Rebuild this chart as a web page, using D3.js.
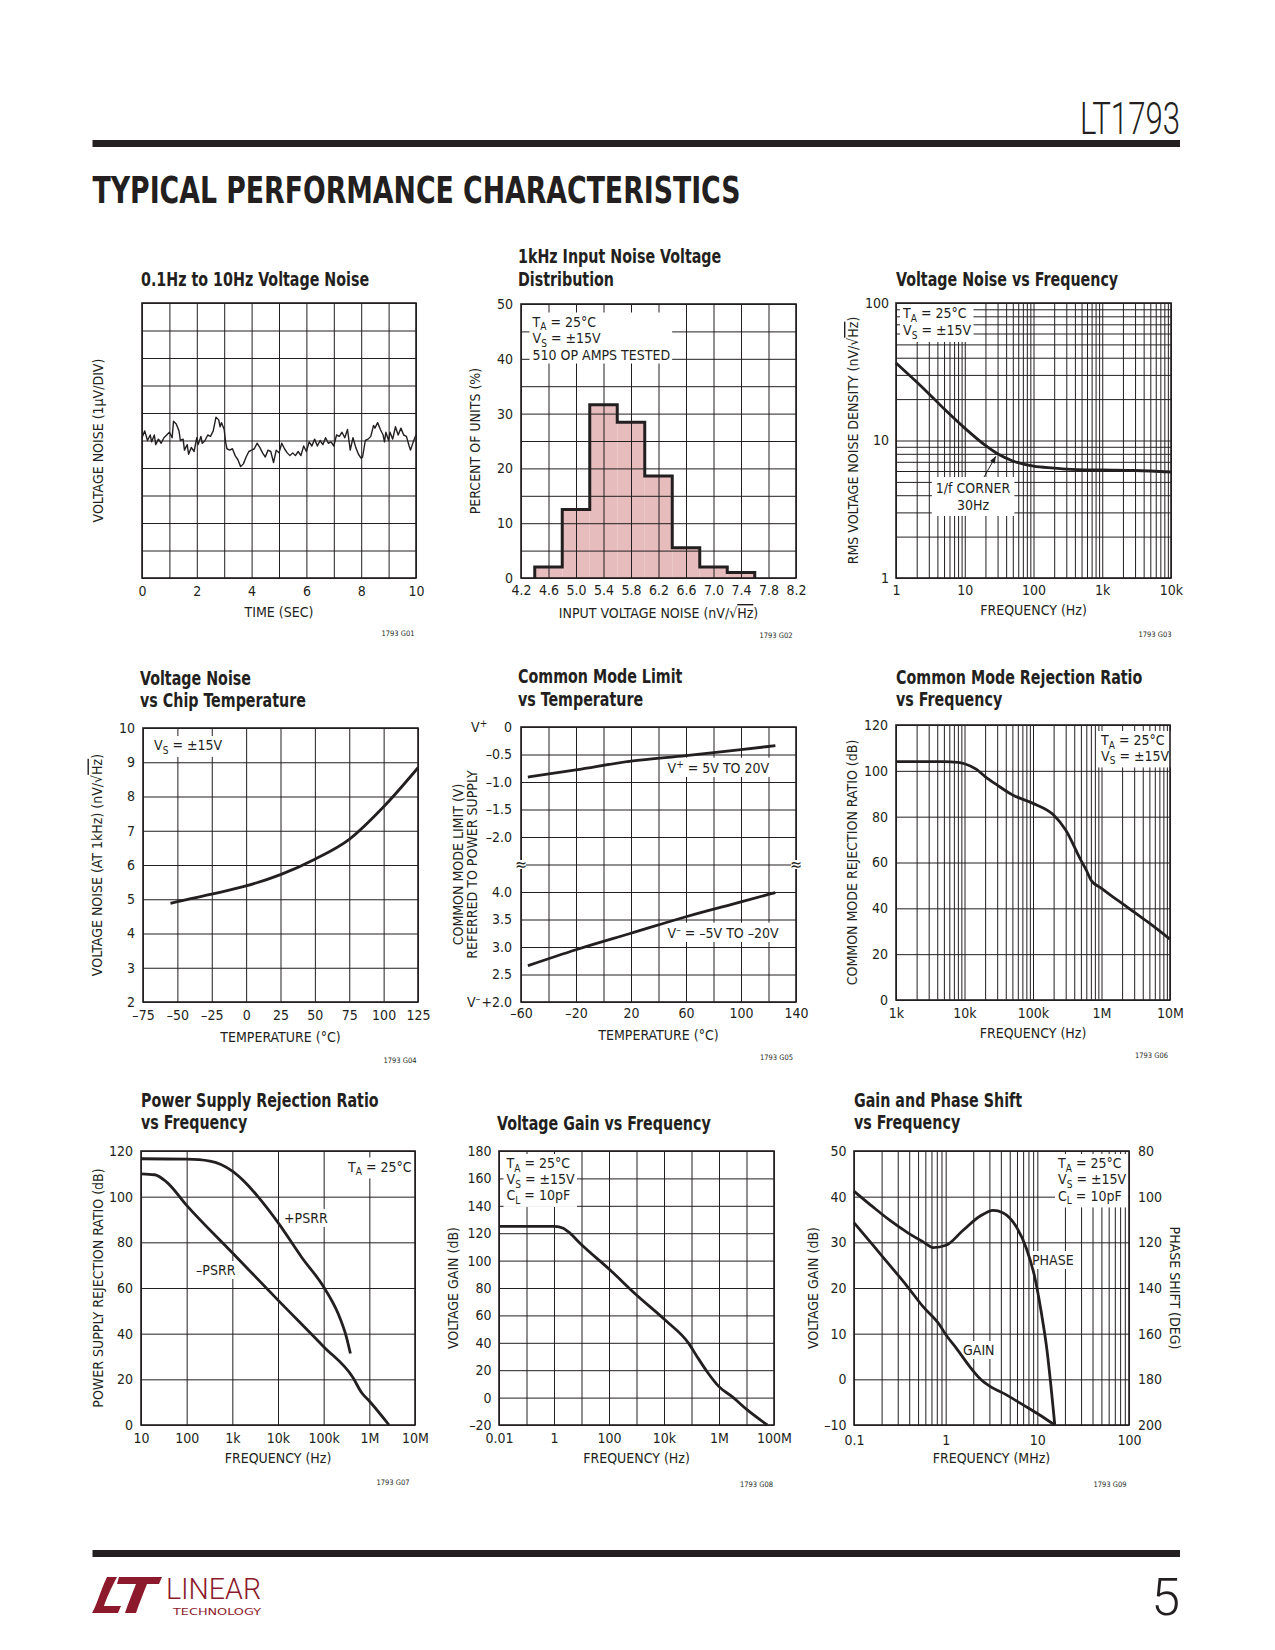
<!DOCTYPE html>
<html><head><meta charset="utf-8">
<script src="https://cdn.jsdelivr.net/npm/d3@7"></script>
<style>
body{margin:0;background:#fff;}
svg text{font-family:"Liberation Sans Narrow","DejaVu Sans Condensed","Arial Narrow",sans-serif;fill:#231f20;}
</style></head><body>
<svg id="page" width="1275" height="1650" xmlns="http://www.w3.org/2000/svg"></svg>
<script>
// ---------------- DATA ----------------
// G01: 0.1Hz to 10Hz noise (time s, µV)
const noiseT = [0,0.1,0.2,0.3,0.35,0.45,0.5,0.6,0.7,0.8,0.9,1.0,1.1,1.15,1.25,1.35,1.4,1.5,1.55,1.65,1.7,1.8,1.9,2.0,2.05,2.15,2.2,2.3,2.4,2.5,2.6,2.7,2.8,2.85,2.9,3.0,3.05,3.1,3.2,3.3,3.4,3.5,3.6,3.7,3.8,3.9,4.0,4.1,4.2,4.3,4.4,4.5,4.6,4.7,4.8,4.9,5.0,5.1,5.2,5.3,5.4,5.5,5.6,5.7,5.8,5.9,6.0,6.1,6.2,6.3,6.4,6.5,6.6,6.7,6.8,6.9,7.0,7.1,7.2,7.3,7.4,7.5,7.6,7.7,7.8,7.9,8.0,8.05,8.15,8.25,8.35,8.45,8.5,8.6,8.7,8.8,8.85,8.9,9.0,9.05,9.15,9.25,9.35,9.45,9.55,9.65,9.75,9.8,9.9,10.0];
const noiseUV = [0.1,0.35,0,0.2,-0.05,0.2,-0.15,0.05,-0.1,0.1,0.2,0.3,0.1,0.7,0.6,0.35,0.0,0.05,-0.35,-0.15,-0.5,-0.25,-0.4,0.1,-0.15,0.15,-0.1,0.0,0.2,0.15,0.35,0.85,0.75,0.5,0.65,0.4,-0.05,-0.3,-0.35,-0.3,-0.55,-0.7,-0.95,-0.85,-0.6,-0.4,-0.35,-0.3,-0.1,-0.25,-0.45,-0.6,-0.35,-0.4,-0.8,-0.35,-0.45,-0.1,-0.3,-0.45,-0.55,-0.45,-0.55,-0.4,-0.55,-0.2,-0.4,-0.05,-0.2,0.05,-0.2,0.0,-0.15,0.1,-0.1,-0.05,-0.2,0.2,0.15,0.3,0.1,0.4,-0.35,0.1,-0.25,-0.5,-0.65,-0.6,0.0,0.05,0.15,0.55,0.45,0.65,0.4,0.2,-0.05,0.3,0.0,0.3,0.05,0.5,0.2,0.45,0.2,0.15,-0.2,-0.35,-0.05,0.2];

// G02: histogram
const histLo  = [4.4,4.8,5.2,5.6,6.0,6.4,6.8,7.2];
const histHi  = [4.8,5.2,5.6,6.0,6.4,6.8,7.2,7.6];
const histPct = [2,12.5,31.6,28.4,18.6,5.5,2,1];

// G03: noise density vs frequency
const vnFreq = [1,2,3,5,10,20,30,50,100,200,300,1000,3000,10000];
const vnDens = [36.6,26.6,21.9,17.0,12.3,9.2,8.0,7.1,6.5,6.3,6.2,6.1,6.05,5.9];

// G04: noise vs temperature
const vtTemp = [-55,-50,-25,0,25,50,75,100,125];
const vtNoise = [4.88,4.93,5.15,5.39,5.72,6.17,6.75,7.7,8.84];

// G05: common mode limit
const cmTemp  = [-55,-20,20,60,100,125];
const cmUpper = [-0.91,-0.78,-0.62,-0.52,-0.41,-0.34];
const cmLower = [2.66,2.95,3.25,3.55,3.82,3.99];

// G06: CMRR
const cmrrFreq = [1e3,5e3,8e3,1e4,1.5e4,2e4,3e4,5e4,1e5,2e5,3e5,5e5,6e5,7e5,1e6,1.5e6,2e6,3e6,5e6,1e7];
const cmrrDb   = [104,104,103.7,103.1,100.6,97.5,93.8,89.5,85.8,80.7,74.2,61,56.7,52.4,48.7,44.8,42.2,38.3,33.5,26.5];

// G07: PSRR
const psrrPFreq = [10,100,323,1000,2040,3680,10400,32600,105000,207000,314000,385000];
const psrrPDb   = [116.6,116.4,115.6,111.2,105.7,99.9,88.2,73.6,59.8,48.8,38.6,31.3];
const psrrNFreq = [10,20,36.5,100,1000,10000,100000,440000,680000,1030000,2700000];
const psrrNDb   = [110,109.6,106.4,96.2,75.4,54.7,34.3,20.7,14.1,10.2,0];

// G08: voltage gain
const avFreq = [0.01,1.07,2.17,3.3,8.8,110,1000,11000,79000,160000,370000,1e6,3e6,1.07e7,5.7e7];
const avDb   = [125,125,123.6,121.1,112.6,93.1,74.9,56.6,39.6,29.9,18.9,8,0.7,-9,-20];

// G09: gain and phase (MHz)
const gpGainF = [0.1,0.161,0.245,0.373,0.567,0.86,1.01,1.31,1.83,2.36,3.03,4.6,7.0,10.6,15.5];
const gpGainDb = [34.3,29.4,25.0,20.6,15.9,11.9,9.7,6.8,2.8,0.2,-1.5,-3.4,-5.6,-7.8,-10];
const gpPhaseF = [0.1,0.161,0.245,0.373,0.567,0.73,1.01,1.55,2.36,3.3,4.2,5.9,7.6,9.35,11.1,12.6,15.5];
const gpPhaseDeg = [97.6,104.5,110.3,115.4,119.8,122.3,121.3,114.7,108.6,106.0,107.0,113.2,122.7,135.1,151.2,165.7,200];

// tick labels
const p1XTicks = [0,2,4,6,8,10];
const p2XTicks = [4.2,4.6,5.0,5.4,5.8,6.2,6.6,7.0,7.4,7.8,8.2];
const p2YTicks = [0,10,20,30,40,50];
const p3XTicks = [1,10,100,1000,10000], p3XLabels = ['1','10','100','1k','10k'];
const p3YTicks = [1,10,100];
const p4XTicks = [-75,-50,-25,0,25,50,75,100,125];
const p4YTicks = [2,3,4,5,6,7,8,9,10];
const p5XTicks = [-60,-20,20,60,100,140];
const p5YLabels = ['0','–0.5','–1.0','–1.5','–2.0','','4.0','3.5','3.0','2.5','+2.0'];
const p6XTicks = [1e3,1e4,1e5,1e6,1e7], p6XLabels = ['1k','10k','100k','1M','10M'];
const p6YTicks = [0,20,40,60,80,100,120];
const p7XTicks = [10,100,1e3,1e4,1e5,1e6,1e7], p7XLabels = ['10','100','1k','10k','100k','1M','10M'];
const p7YTicks = [0,20,40,60,80,100,120];
const p8XTicks = [0.01,1,100,1e4,1e6,1e8], p8XLabels = ['0.01','1','100','10k','1M','100M'];
const p8YTicks = [-20,0,20,40,60,80,100,120,140,160,180];
const p9XTicks = [0.1,1,10,100], p9XLabels = ['0.1','1','10','100'];
const p9YTicks = [-10,0,10,20,30,40,50];
const p9PTicks = [80,100,120,140,160,180,200];

// ---------------- HELPERS ----------------
const INK = '#231f20';
const RED = '#8c1a2c';
const svg = d3.select('#page');
const fmtNum = d => String(d).replace('-', '\u2013');

function rich(t, str, fs) {
  const re = /(_\{[^}]*\}|\^\{[^}]*\}|~\{[^}]*\})/;
  const parts = str.split(re).filter(s => s.length);
  let off = 0;
  parts.forEach(p => {
    if (p.startsWith('_{') || p.startsWith('^{')) {
      const shift = p[0] === '_' ? fs * 0.28 : -fs * 0.38;
      t.append('tspan').attr('font-size', fs * 0.72).attr('dy', shift - off).text(p.slice(2, -1));
      off = shift;
    } else if (p.startsWith('~{')) {
      t.append('tspan').attr('dy', -off).style('text-decoration', 'overline').text(p.slice(2, -1));
      off = 0;
    } else {
      t.append('tspan').attr('dy', -off).text(p);
      off = 0;
    }
  });
}
function txt(g, x, y, str, o = {}) {
  const fs = o.size || 14;
  const t = g.append('text').attr('x', x).attr('y', y).attr('font-size', fs)
    .attr('text-anchor', o.anchor || 'start').attr('font-weight', o.weight || 'normal');
  let tr = '';
  if (o.rotate) tr += `rotate(${o.rotate},${x},${y}) `;
  if (o.sx) tr += `translate(${x},${y}) scale(${o.sx},1) translate(${-x},${-y})`;
  if (tr) t.attr('transform', tr);
  if (o.fill) t.style('fill', o.fill);
  rich(t, str, fs);
  return t;
}
function note(g, x, ys, lines, o = {}) {
  const grp = g.append('g');
  lines.forEach((l, i) => txt(grp, x, ys[i], l, o));
  const bb = grp.node().getBBox();
  const pad = o.pad ?? 2;
  grp.insert('rect', ':first-child').attr('x', bb.x - pad).attr('y', bb.y - pad + 1)
    .attr('width', bb.width + 2 * pad).attr('height', bb.height + 2 * pad - 2).attr('fill', '#fff');
  return grp;
}
function logGrid(lo, hi, minor) {
  const out = [];
  const e0 = Math.round(Math.log10(lo)), e1 = Math.round(Math.log10(hi));
  for (let e = e0; e < e1; e++) {
    const b = Math.pow(10, e);
    if (minor) for (let k = 1; k < 10; k++) out.push(+(k * b).toPrecision(6)); else out.push(b);
  }
  out.push(hi);
  return out;
}
function styleGrid(s) {
  s.select('.domain').remove();
  s.attr('font-family', null).attr('font-size', null);
  s.selectAll('line').attr('stroke', INK).attr('stroke-width', 1);
}
function styleLabels(s) {
  s.select('.domain').remove();
  s.attr('font-family', null).attr('font-size', null);
  s.selectAll('text').attr('font-size', 14).style('fill', INK);
}
function panel(c) {
  const g = svg.append('g');
  const x = c.x.copy().range([c.x0, c.x0 + c.w]);
  const y = c.y.copy().range([c.y0 + c.h, c.y0]);
  const L = {under: g.append('g'), grid: g.append('g'), notes: g.append('g'), frame: g.append('g'), marks: g.append('g'), labels: g.append('g')};
  L.grid.append('g').attr('transform', `translate(0,${c.y0 + c.h})`)
    .call(d3.axisBottom(x).tickValues(c.xGrid).tickSize(-c.h).tickFormat('')).call(styleGrid);
  L.grid.append('g').attr('transform', `translate(${c.x0},0)`)
    .call(d3.axisLeft(y).tickValues(c.yGrid).tickSize(-c.w).tickFormat('')).call(styleGrid);
  L.frame.append('rect').attr('x', c.x0).attr('y', c.y0).attr('width', c.w).attr('height', c.h)
    .attr('fill', 'none').attr('stroke', INK).attr('stroke-width', 1.6);
  if (c.xTicks) L.labels.append('g').attr('transform', `translate(0,${c.y0 + c.h})`)
    .call(d3.axisBottom(x).tickValues(c.xTicks).tickSize(0).tickPadding(c.xPad ?? 8)
      .tickFormat((d, i) => c.xLabels ? c.xLabels[i] : (c.xFmt ? c.xFmt(d) : fmtNum(d))))
    .call(styleLabels);
  if (c.yTicks) L.labels.append('g').attr('transform', `translate(${c.x0},0)`)
    .call(d3.axisLeft(y).tickValues(c.yTicks).tickSize(0).tickPadding(c.yPad ?? 8)
      .tickFormat((d, i) => c.yLabels ? c.yLabels[i] : fmtNum(d)))
    .call(styleLabels);
  // titles
  c.title.forEach((t, i) => txt(L.labels, c.tx, c.ty + i * 22.5, t, {size: 19, weight: 'bold', sx: 0.835}));
  if (c.xTitle) txt(L.labels, c.x0 + c.w / 2, c.xTitleY, c.xTitle, {anchor: 'middle'});
  if (c.yTitle) c.yTitle.forEach((t, i) => txt(L.labels, c.yTitleX[i], c.y0 + c.h / 2, t, {anchor: 'middle', rotate: -90}));
  txt(L.labels, c.codeX, c.codeY, c.code, {size: 7.5, anchor: 'middle'});
  return {g, x, y, L, c};
}
const curve = (x, y, xs, ys, cv) => d3.line().x((d, i) => x(xs[i])).y((d, i) => y(ys[i])).curve(cv || d3.curveMonotoneX)(xs);
function drawCurve(P, xs, ys, o = {}) {
  P.L.marks.append('path').attr('d', curve(o.x || P.x, o.y || P.y, xs, ys, o.curve))
    .attr('fill', 'none').attr('stroke', INK).attr('stroke-width', o.width || 2.8)
    .attr('stroke-linejoin', 'round').attr('stroke-linecap', 'butt');
}

// ---------------- PAGE HEADER / FOOTER ----------------
svg.append('rect').attr('width', 1275).attr('height', 1650).attr('fill', '#fff');
svg.append('text').attr('x', 1180).attr('y', 134).attr('text-anchor', 'end').attr('font-size', 44)
  .attr('textLength', 100).attr('lengthAdjust', 'spacingAndGlyphs')
  .style('font-family', 'Roboto,"Open Sans",Lato,sans-serif').style('font-weight', 300).text('LT1793');
svg.append('rect').attr('x', 92.5).attr('y', 140).attr('width', 1087.5).attr('height', 7).attr('fill', INK);
svg.append('text').attr('x', 92.5).attr('y', 203).attr('font-size', 38)
  .attr('textLength', 648).attr('lengthAdjust', 'spacingAndGlyphs')
  .style('font-family', '"DejaVu Sans Condensed","DejaVu Sans",sans-serif').style('font-weight', 'bold')
  .text('TYPICAL PERFORMANCE CHARACTERISTICS');
svg.append('rect').attr('x', 92.5).attr('y', 1550).attr('width', 1087.5).attr('height', 7).attr('fill', INK);
svg.append('text').attr('x', 1180).attr('y', 1615).attr('text-anchor', 'end').attr('font-size', 52)
  .style('font-family', 'Roboto,"Open Sans",Lato,sans-serif').style('font-weight', 300).text('5');
// logo
const logo = svg.append('g');
logo.append('path').attr('fill', RED)
  .attr('d', 'M107,1577 L117,1577 C110,1590 106,1600 104,1606 L121,1606 L118,1613 L92,1613 C96,1607 100,1592 107,1577 Z');
logo.append('path').attr('fill', RED)
  .attr('d', 'M119,1577 L162,1577 L159,1584 L147,1584 C143,1594 139,1604 136,1613 L125,1613 C128,1604 132,1594 136,1584 L117,1584 Z');
logo.append('text').attr('x', 166).attr('y', 1599).attr('font-size', 30).attr('textLength', 95)
  .attr('lengthAdjust', 'spacingAndGlyphs').style('fill', RED)
  .style('font-family', 'Roboto,"Open Sans",sans-serif').style('font-weight', 300).text('LINEAR');
logo.append('text').attr('x', 173).attr('y', 1615).attr('font-size', 9).attr('textLength', 88)
  .attr('lengthAdjust', 'spacingAndGlyphs').style('fill', RED).text('TECHNOLOGY');

// ---------------- G01 ----------------
const P1 = panel({x0: 142, y0: 303, w: 274, h: 275,
  x: d3.scaleLinear().domain([0, 10]), y: d3.scaleLinear().domain([-5, 5]),
  xGrid: d3.range(0, 11), yGrid: d3.range(-5, 6),
  xTicks: p1XTicks, xPad: 8,
  title: ['0.1Hz to 10Hz Voltage Noise'], tx: 141, ty: 286,
  xTitle: 'TIME (SEC)', xTitleY: 617, yTitle: ['VOLTAGE NOISE (1µV/DIV)'], yTitleX: [103],
  code: '1793 G01', codeX: 398, codeY: 636});
drawCurve(P1, noiseT, noiseUV, {curve: d3.curveLinear, width: 1.4});

// ---------------- G02 ----------------
const P2 = panel({x0: 521, y0: 304, w: 275, h: 274,
  x: d3.scaleLinear().domain([4.2, 8.2]), y: d3.scaleLinear().domain([0, 50]),
  xGrid: p2XTicks, yGrid: d3.range(0, 51, 5),
  xTicks: p2XTicks, xFmt: d3.format('.1f'), xPad: 7, yTicks: p2YTicks, yPad: 8,
  title: ['1kHz Input Noise Voltage', 'Distribution'], tx: 518, ty: 263.5,
  xTitle: 'INPUT VOLTAGE NOISE (nV/√~{Hz})', xTitleY: 618, yTitle: ['PERCENT OF UNITS (%)'], yTitleX: [480],
  code: '1793 G02', codeX: 776, codeY: 638});
P2.L.under.selectAll('rect').data(histPct).join('rect')
  .attr('x', (d, i) => P2.x(histLo[i])).attr('width', (d, i) => P2.x(histHi[i]) - P2.x(histLo[i]))
  .attr('y', d => P2.y(d)).attr('height', d => P2.y(0) - P2.y(d)).attr('fill', '#e6bcbd');
{
  const pts = [[histLo[0], 0]];
  histPct.forEach((v, i) => { pts.push([histLo[i], v]); pts.push([histHi[i], v]); });
  pts.push([histHi[histHi.length - 1], 0]);
  P2.L.marks.append('path').attr('d', d3.line().x(d => P2.x(d[0])).y(d => P2.y(d[1]))(pts))
    .attr('fill', 'none').attr('stroke', INK).attr('stroke-width', 3).attr('stroke-linejoin', 'miter');
}
note(P2.L.notes, 532.5, [326.5, 343, 359.5], ['T_{A} = 25°C', 'V_{S} = ±15V', '510 OP AMPS TESTED']);

// ---------------- G03 ----------------
const P3 = panel({x0: 896, y0: 303, w: 275, h: 275,
  x: d3.scaleLog().domain([1, 1e4]), y: d3.scaleLog().domain([1, 100]),
  xGrid: logGrid(1, 1e4, true), yGrid: logGrid(1, 100, true),
  xTicks: p3XTicks, xLabels: p3XLabels, xPad: 7, yTicks: p3YTicks, yPad: 7,
  title: ['Voltage Noise vs Frequency'], tx: 896, ty: 286,
  xTitle: 'FREQUENCY (Hz)', xTitleY: 615, yTitle: ['RMS VOLTAGE NOISE DENSITY (nV/√~{Hz})'], yTitleX: [858],
  code: '1793 G03', codeX: 1155, codeY: 637});
note(P3.L.notes, 903, [318, 335], ['T_{A} = 25°C', 'V_{S} = ±15V'], {pad: 2});
note(P3.L.notes, 973, [493, 510], ['1/f CORNER', '30Hz'], {anchor: 'middle', pad: 4});
drawCurve(P3, vnFreq, vnDens);
{
  const defs = svg.append('defs');
  defs.append('marker').attr('id', 'ah').attr('viewBox', '0 0 10 10').attr('refX', 10).attr('refY', 5)
    .attr('markerWidth', 7).attr('markerHeight', 7).attr('orient', 'auto')
    .append('path').attr('d', 'M0,1 L10,5 L0,9 Z').attr('fill', INK);
  P3.L.marks.append('line').attr('x1', P3.x(19.1)).attr('y1', P3.y(5.43)).attr('x2', P3.x(28.3)).attr('y2', P3.y(7.67))
    .attr('stroke', INK).attr('stroke-width', 1).attr('marker-end', 'url(#ah)');
}

// ---------------- G04 ----------------
const P4 = panel({x0: 143, y0: 728, w: 275, h: 274,
  x: d3.scaleLinear().domain([-75, 125]), y: d3.scaleLinear().domain([2, 10]),
  xGrid: p4XTicks, yGrid: p4YTicks,
  xTicks: p4XTicks, xPad: 8, yTicks: p4YTicks, yPad: 8,
  title: ['Voltage Noise', 'vs Chip Temperature'], tx: 140, ty: 685,
  xTitle: 'TEMPERATURE (°C)', xTitleY: 1042, yTitle: ['VOLTAGE NOISE (AT 1kHz) (nV/√~{Hz})'], yTitleX: [101.5],
  code: '1793 G04', codeX: 400, codeY: 1063});
note(P4.L.notes, 154, [750], ['V_{S} = ±15V']);
drawCurve(P4, vtTemp, vtNoise);

// ---------------- G05 ----------------
const P5 = panel({x0: 521, y0: 727, w: 275, h: 275,
  x: d3.scaleLinear().domain([-60, 140]), y: d3.scaleLinear().domain([10, 0]),
  xGrid: d3.range(-60, 141, 20), yGrid: d3.range(0, 11),
  xTicks: p5XTicks, xPad: 6, yTicks: d3.range(0, 11), yLabels: p5YLabels, yPad: 9,
  title: ['Common Mode Limit', 'vs Temperature'], tx: 518, ty: 683.5,
  xTitle: 'TEMPERATURE (°C)', xTitleY: 1040, yTitle: ['COMMON MODE LIMIT (V)', 'REFERRED TO POWER SUPPLY'], yTitleX: [463, 476.5],
  code: '1793 G05', codeX: 776.5, codeY: 1060});
{
  const yU = d3.scaleLinear().domain([0, -2.5]).range([727, 727 + 137.5]);
  const yL = d3.scaleLinear().domain([2.0, 4.5]).range([1002, 1002 - 137.5]);
  note(P5.L.notes, 667.5, [773], ['V^{+} = 5V TO 20V']);
  note(P5.L.notes, 667.5, [938], ['V^{–} = –5V TO –20V']);
  drawCurve(P5, cmTemp, cmUpper, {y: yU});
  drawCurve(P5, cmTemp, cmLower, {y: yL});
  txt(P5.L.labels, 471, 732, 'V^{+}');
  txt(P5.L.labels, 467, 1007, 'V^{–}');
  [521, 796].forEach(bx => {
    P5.L.labels.append('rect').attr('x', bx - 5).attr('y', 860).attr('width', 10).attr('height', 9).attr('fill', '#fff');
    txt(P5.L.labels, bx, 870, '≈', {anchor: 'middle', size: 16});
  });
}

// ---------------- G06 ----------------
const P6 = panel({x0: 896, y0: 725, w: 274, h: 275,
  x: d3.scaleLog().domain([1e3, 1e7]), y: d3.scaleLinear().domain([0, 120]),
  xGrid: logGrid(1e3, 1e7, true), yGrid: p6YTicks,
  xTicks: p6XTicks, xLabels: p6XLabels, xPad: 8, yTicks: p6YTicks, yPad: 8,
  title: ['Common Mode Rejection Ratio', 'vs Frequency'], tx: 896, ty: 684,
  xTitle: 'FREQUENCY (Hz)', xTitleY: 1038, yTitle: ['COMMON MODE REJECTION RATIO (dB)'], yTitleX: [856.5],
  code: '1793 G06', codeX: 1151.5, codeY: 1058});
note(P6.L.notes, 1101, [745, 760.5], ['T_{A} = 25°C', 'V_{S} = ±15V']);
drawCurve(P6, cmrrFreq, cmrrDb);

// ---------------- G07 ----------------
const P7 = panel({x0: 141, y0: 1151, w: 274, h: 274,
  x: d3.scaleLog().domain([10, 1e7]), y: d3.scaleLinear().domain([0, 120]),
  xGrid: logGrid(10, 1e7, false), yGrid: p7YTicks,
  xTicks: p7XTicks, xLabels: p7XLabels, xPad: 8, yTicks: p7YTicks, yPad: 8,
  title: ['Power Supply Rejection Ratio', 'vs Frequency'], tx: 141, ty: 1107,
  xTitle: 'FREQUENCY (Hz)', xTitleY: 1463, yTitle: ['POWER SUPPLY REJECTION RATIO (dB)'], yTitleX: [103],
  code: '1793 G07', codeX: 393, codeY: 1485});
note(P7.L.notes, 348, [1171.5], ['T_{A} = 25°C']);
note(P7.L.notes, 284, [1223], ['+PSRR']);
note(P7.L.notes, 196, [1275], ['–PSRR']);
drawCurve(P7, psrrPFreq, psrrPDb);
drawCurve(P7, psrrNFreq, psrrNDb);

// ---------------- G08 ----------------
const P8 = panel({x0: 499, y0: 1151, w: 275, h: 274,
  x: d3.scaleLog().domain([0.01, 1e8]), y: d3.scaleLinear().domain([-20, 180]),
  xGrid: logGrid(0.01, 1e8, false), yGrid: p8YTicks,
  xTicks: p8XTicks, xLabels: p8XLabels, xPad: 8, yTicks: p8YTicks, yPad: 7.5,
  title: ['Voltage Gain vs Frequency'], tx: 497, ty: 1130,
  xTitle: 'FREQUENCY (Hz)', xTitleY: 1463, yTitle: ['VOLTAGE GAIN (dB)'], yTitleX: [458],
  code: '1793 G08', codeX: 756.5, codeY: 1486.5});
note(P8.L.notes, 506.5, [1168, 1184, 1200], ['T_{A} = 25°C', 'V_{S} = ±15V', 'C_{L} = 10pF']);
drawCurve(P8, avFreq, avDb);

// ---------------- G09 ----------------
const P9 = panel({x0: 854, y0: 1151, w: 275, h: 274,
  x: d3.scaleLog().domain([0.1, 100]), y: d3.scaleLinear().domain([-10, 50]),
  xGrid: logGrid(0.1, 100, true), yGrid: p9YTicks,
  xTicks: p9XTicks, xLabels: p9XLabels, xPad: 10, yTicks: p9YTicks, yPad: 7.5,
  title: ['Gain and Phase Shift', 'vs Frequency'], tx: 854, ty: 1107,
  xTitle: 'FREQUENCY (MHz)', xTitleY: 1463, yTitle: ['VOLTAGE GAIN (dB)'], yTitleX: [818],
  code: '1793 G09', codeX: 1110, codeY: 1486.5});
{
  const yP = d3.scaleLinear().domain([200, 80]).range([1425, 1151]);
  P9.L.labels.append('g').attr('transform', 'translate(1129,0)')
    .call(d3.axisRight(yP).tickValues(p9PTicks).tickSize(0).tickPadding(9).tickFormat(d => String(d)))
    .call(styleLabels);
  txt(P9.L.labels, 1170, 1288, 'PHASE SHIFT (DEG)', {anchor: 'middle', rotate: 90});
  note(P9.L.notes, 1058, [1168, 1184, 1200.5], ['T_{A} = 25°C', 'V_{S} = ±15V', 'C_{L} = 10pF']);
  note(P9.L.notes, 1032, [1265], ['PHASE']);
  note(P9.L.notes, 963, [1355], ['GAIN']);
  drawCurve(P9, gpGainF, gpGainDb);
  drawCurve(P9, gpPhaseF, gpPhaseDeg, {y: yP});
}
</script>
</body></html>
